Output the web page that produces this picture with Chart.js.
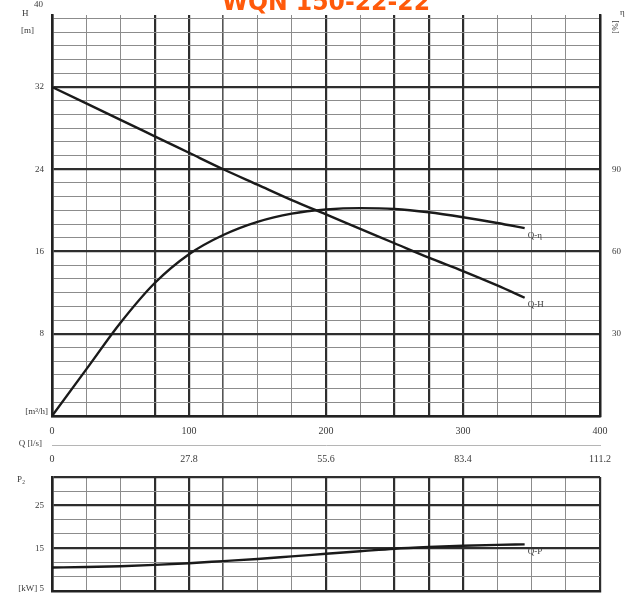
<!DOCTYPE html>
<html>
<head>
<meta charset="utf-8">
<script src="https://cdn.jsdelivr.net/npm/chart.js@4.4.0/dist/chart.umd.min.js"></script>
<style>
  html, body { margin: 0; padding: 0; background: #fff; }
  #wrap { position: relative; width: 630px; height: 596px; overflow: hidden; }
  #mainChart { position: absolute; left: 0; top: 0; }
  #powerChart { position: absolute; left: 0; top: 470px; }
</style>
</head>
<body>
<div id="wrap">
  <canvas id="mainChart" width="630" height="466"></canvas>
  <canvas id="powerChart" width="630" height="126"></canvas>
</div>
<script>
// pump curve data, flow in m3/h
const flowQ = [0, 25, 50, 75, 100, 125, 150, 175, 200, 225, 250, 275, 300, 325, 345];
const headH = [32.0, 30.4, 28.8, 27.2, 25.6, 24.0, 22.5, 21.0, 19.6, 18.2, 16.8, 15.4, 14.1, 12.7, 11.5];
const effEta = [0, 17, 34, 48.5, 59, 66, 70.8, 73.8, 75.3, 75.8, 75.5, 74.3, 72.5, 70.4, 68.5];
const powerP = [10.5, 10.6, 10.8, 11.1, 11.5, 12.0, 12.5, 13.1, 13.7, 14.3, 14.9, 15.3, 15.6, 15.8, 15.9];

const flowTicks = [0, 100, 200, 300, 400];
const flowLsTicks = ['0', '27.8', '55.6', '83.4', '111.2'];
const headTicks = [8, 16, 24, 32];
const effTicks = [30, 60, 90];
const powerTicks = [15, 25];

const heavyQ = [0, 75, 100, 200, 250, 275, 300, 400];
const LABEL_FONT = { family: 'Liberation Serif', size: 10 };
const SMALL_FONT = { family: 'Liberation Serif', size: 9 };
const INK = '#3a3a3a';

Chart.defaults.font.family = 'Liberation Serif';
Chart.defaults.color = INK;

const pts = (ys) => flowQ.map((q, i) => ({ x: q, y: ys[i] }));
const near = (a, b) => Math.abs(a - b) < 1e-6;

function qGridColor(ctx) {
    const v = ctx.tick ? ctx.tick.value : 0;
    if (heavyQ.some(q => near(q, v))) return '#2e2e2e';
    if (near(v, 125)) return '#555';
    return '#8c8c8c';
}
function qGridWidth(ctx) {
    const v = ctx.tick ? ctx.tick.value : 0;
    if (heavyQ.some(q => near(q, v))) return 2.2;
    if (near(v, 125)) return 1.6;
    return 1;
}
// keep the plot box where the layout padding puts it
function noEdgePad(s) {
    s.paddingTop = 0; s.paddingBottom = 0;
    s.paddingLeft = 0; s.paddingRight = 0;
}

// text beside the end of each curve
const curveTags = {
    id: 'curveTags',
    afterDatasetsDraw(chart) {
        const ctx = chart.ctx;
        ctx.save();
        ctx.font = '9px "Liberation Serif"';
        ctx.fillStyle = INK;
        ctx.textBaseline = 'middle';
        chart.data.datasets.forEach((ds, i) => {
            if (!ds.tag) return;
            const els = chart.getDatasetMeta(i).data;
            const last = els[els.length - 1];
            ctx.fillText(ds.tag, last.x + 3, last.y + 7);
        });
        ctx.restore();
    }
};

// axis captions and the heading
const mainCaptions = {
    id: 'mainCaptions',
    afterDraw(chart) {
        const ctx = chart.ctx;
        const area = chart.chartArea;
        ctx.save();
        ctx.fillStyle = INK;
        ctx.font = '9px "Liberation Serif"';
        ctx.textBaseline = 'middle';
        ctx.textAlign = 'right';
        ctx.fillText('40', area.left - 9, 5);
        ctx.fillText('[m³/h]', area.left - 4, area.bottom - 4);
        ctx.fillText('Q [l/s]', area.left - 10, 444);
        ctx.textAlign = 'left';
        ctx.fillText('H', 22, 14);
        ctx.fillText('[m]', 21, 31);
        ctx.fillText('η', 620, 13);
        ctx.translate(616, 27);
        ctx.rotate(-Math.PI / 2);
        ctx.textAlign = 'center';
        ctx.fillText('[%]', 0, 0);
        ctx.restore();

        ctx.save();
        ctx.fillStyle = '#ff5a0a';
        ctx.font = 'bold 24px "DejaVu Sans"';
        ctx.textAlign = 'center';
        ctx.textBaseline = 'alphabetic';
        const title = 'WQN 150-22-22';
        const w = ctx.measureText(title).width;
        ctx.translate(326, 10);
        ctx.scale(208 / w, 1);
        ctx.fillText(title, 0, 0);
        ctx.restore();
    }
};

new Chart(document.getElementById('mainChart'), {
    type: 'line',
    data: {
        datasets: [
            {
                label: 'Q-H', tag: 'Q-H', data: pts(headH), yAxisID: 'h',
                borderColor: '#1a1a1a', borderWidth: 2.4, pointRadius: 0,
                cubicInterpolationMode: 'monotone', fill: false
            },
            {
                label: 'Q-η', tag: 'Q-η', data: pts(effEta), yAxisID: 'eta',
                borderColor: '#1a1a1a', borderWidth: 2.4, pointRadius: 0,
                cubicInterpolationMode: 'monotone', fill: false
            }
        ]
    },
    options: {
        responsive: false,
        animation: false,
        devicePixelRatio: 1,
        layout: { padding: { top: 15, left: 0, right: 0, bottom: 1 } },
        plugins: { legend: { display: false }, tooltip: { enabled: false } },
        scales: {
            x: {
                type: 'linear', position: 'bottom', min: 0, max: 400,
                afterBuildTicks: s => { s.ticks = []; for (let q = 0; q <= 400; q += 25) s.ticks.push({ value: q }); },
                afterFit: s => { s.height = 29; noEdgePad(s); },
                grid: { color: qGridColor, lineWidth: qGridWidth, drawTicks: false },
                border: { display: true, color: '#222', width: 2.4 },
                ticks: {
                    autoSkip: false, maxRotation: 0, padding: 9, font: LABEL_FONT, color: INK,
                    callback: v => flowTicks.includes(v) ? String(v) : ''
                }
            },
            xls: {
                type: 'linear', position: 'bottom', min: 0, max: 111.2,
                afterBuildTicks: s => { s.ticks = flowLsTicks.map(t => ({ value: parseFloat(t) })); },
                afterFit: s => { s.height = 20; noEdgePad(s); },
                grid: { display: true, drawOnChartArea: false, drawTicks: false },
                border: { display: true, color: '#b5b5b5', width: 1, dash: [3, 2] },
                ticks: {
                    autoSkip: false, maxRotation: 0, padding: 8, font: LABEL_FONT, color: INK,
                    callback: (v, i) => flowLsTicks[i]
                }
            },
            h: {
                type: 'linear', position: 'left', min: 0, max: 39,
                afterBuildTicks: s => { s.ticks = []; for (let k = 0; k <= 29; k++) s.ticks.push({ value: k * 4 / 3 }); },
                afterFit: s => { s.width = 52; noEdgePad(s); },
                grid: {
                    drawTicks: false,
                    color: c => (c.index % 6 === 0 ? '#2e2e2e' : '#8c8c8c'),
                    lineWidth: c => (c.index % 6 === 0 ? 2.2 : 1)
                },
                border: { display: true, color: '#222', width: 2.6 },
                ticks: {
                    autoSkip: false, padding: 8, font: SMALL_FONT, color: INK,
                    callback: v => { const m = headTicks.find(t => near(t, v)); return m ? String(m) : ''; }
                }
            },
            eta: {
                type: 'linear', position: 'right', min: 0, max: 146.25,
                afterBuildTicks: s => { s.ticks = effTicks.map(v => ({ value: v })); },
                afterFit: s => { s.width = 30; noEdgePad(s); },
                grid: { display: true, drawOnChartArea: false, drawTicks: false },
                border: { display: true, color: '#222', width: 2.4 },
                ticks: { padding: 12, font: SMALL_FONT, color: INK }
            }
        }
    },
    plugins: [curveTags, mainCaptions]
});

// power curve below
const powerCaptions = {
    id: 'powerCaptions',
    afterDraw(chart) {
        const ctx = chart.ctx;
        const area = chart.chartArea;
        ctx.save();
        ctx.fillStyle = INK;
        ctx.font = '9px "Liberation Serif"';
        ctx.textBaseline = 'middle';
        ctx.textAlign = 'left';
        ctx.fillText('P₂', 17, 10);
        ctx.textAlign = 'right';
        ctx.fillText('[kW] 5', area.left - 8, area.bottom - 2);
        ctx.restore();
    }
};

new Chart(document.getElementById('powerChart'), {
    type: 'line',
    data: {
        datasets: [{
            label: 'Q-P', tag: 'Q-P', data: pts(powerP),
            borderColor: '#1a1a1a', borderWidth: 2.4, pointRadius: 0,
            cubicInterpolationMode: 'monotone', fill: false
        }]
    },
    options: {
        responsive: false,
        animation: false,
        devicePixelRatio: 1,
        layout: { padding: { top: 7, left: 0, right: 30, bottom: 5 } },
        plugins: { legend: { display: false }, tooltip: { enabled: false } },
        scales: {
            x: {
                type: 'linear', position: 'bottom', min: 0, max: 400,
                afterBuildTicks: s => { s.ticks = []; for (let q = 0; q <= 400; q += 25) s.ticks.push({ value: q }); },
                afterFit: s => { s.height = 0; noEdgePad(s); },
                grid: { color: qGridColor, lineWidth: qGridWidth, drawTicks: false },
                border: { display: true, color: '#222', width: 2.4 },
                ticks: { display: false }
            },
            y: {
                type: 'linear', position: 'left', min: 5, max: 5 + 80 / 3,
                afterBuildTicks: s => { s.ticks = []; for (let k = 0; k <= 8; k++) s.ticks.push({ value: 5 + k * 10 / 3 }); },
                afterFit: s => { s.width = 52; noEdgePad(s); },
                grid: {
                    drawTicks: false,
                    color: c => (c.index === 3 || c.index === 6 || c.index === 8 ? '#2e2e2e' : '#8c8c8c'),
                    lineWidth: c => (c.index === 3 || c.index === 6 || c.index === 8 ? 2.2 : 1)
                },
                border: { display: true, color: '#222', width: 2.6 },
                ticks: {
                    autoSkip: false, padding: 8, font: SMALL_FONT, color: INK,
                    callback: v => { const m = powerTicks.find(t => near(t, v)); return m ? String(m) : ''; }
                }
            }
        }
    },
    plugins: [curveTags, powerCaptions]
});
</script>
</body>
</html>
